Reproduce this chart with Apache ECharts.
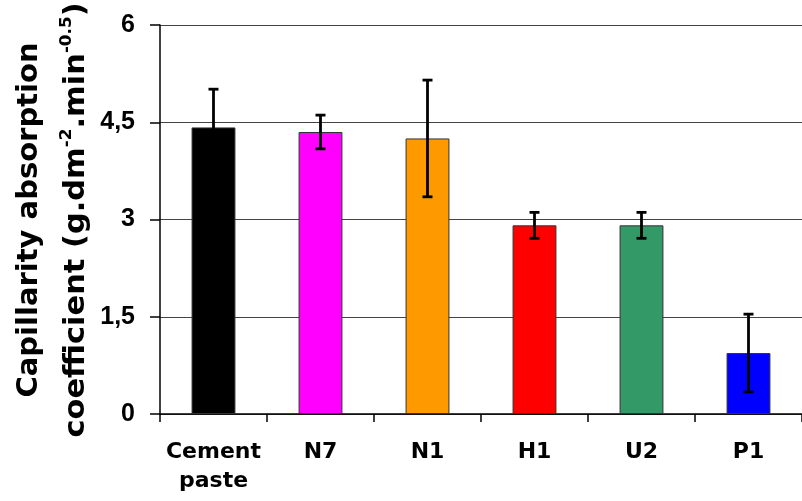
<!DOCTYPE html>
<html><head><meta charset="utf-8">
<script src="https://cdn.jsdelivr.net/npm/echarts@6/dist/echarts.min.js"></script>
<style>html,body{margin:0;padding:0;background:#fff}#c{width:802px;height:501px}</style>
</head><body><div id="c"></div>
<script>
const categories = ['Cement\npaste', 'N7', 'N1', 'H1', 'U2', 'P1'];
const values = [4.42, 4.35, 4.25, 2.91, 2.91, 0.94];
const errors = [0.59, 0.26, 0.90, 0.20, 0.20, 0.60];
const colors = ['#000000', '#ff00ff', '#ff9900', '#ff0000', '#339966', '#0000ff'];
const yMin = 0, yMax = 6, yStep = 1.5;

const chart = echarts.init(document.getElementById('c'));
chart.setOption({
  animation: false,
  backgroundColor: '#ffffff',
  grid: { left: 160, right: -8, top: 25, bottom: 87 },
  xAxis: {
    type: 'category',
    data: categories,
    axisLine: { lineStyle: { color: '#000', width: 1.5 } },
    axisTick: { show: true, length: 8, interval: 0, lineStyle: { color: '#000', width: 1.5 } },
    axisLabel: { interval: 0, margin: 24, color: '#000', fontFamily: 'DejaVu Sans', fontWeight: 'bold', fontSize: 22, lineHeight: 29 }
  },
  yAxis: {
    type: 'value', min: yMin, max: yMax, interval: yStep,
    axisLine: { show: true, lineStyle: { color: '#000', width: 1.5 } },
    axisTick: { show: true, length: 10, lineStyle: { color: '#000', width: 1.5 } },
    splitLine: { lineStyle: { color: '#444', width: 1.2 } },
    axisLabel: { margin: 25, color: '#000', fontFamily: '"Liberation Sans Narrow", "Liberation Sans"', fontWeight: 'bold', fontSize: 25,
      formatter: v => String(v).replace('.', ',') }
  },
  series: [
    {
      type: 'bar', barWidth: '41%',
      data: values.map((v, i) => ({ value: v, itemStyle: { color: colors[i], borderColor: '#333', borderWidth: 1 } }))
    },
    {
      type: 'custom', z: 10,
      data: values.map((v, i) => [i, v, errors[i]]),
      encode: { x: 0, y: 1 },
      renderItem: function (params, api) {
        const i = api.value(0), v = api.value(1), e = api.value(2);
        const t = api.coord([i, v + e]), b = api.coord([i, v - e]);
        const hw = 5;
        const st = { stroke: '#000', lineWidth: 2.8 };
        return { type: 'group', children: [
          { type: 'line', shape: { x1: t[0], y1: t[1], x2: b[0], y2: b[1] }, style: st },
          { type: 'line', shape: { x1: t[0] - hw, y1: t[1], x2: t[0] + hw, y2: t[1] }, style: st },
          { type: 'line', shape: { x1: b[0] - hw, y1: b[1], x2: b[0] + hw, y2: b[1] }, style: st }
        ]};
      }
    }
  ],
  graphic: [
    { type: 'text', x: 29, y: 220, rotation: Math.PI / 2,
      style: { text: 'Capillarity absorption', font: 'bold 29px "DejaVu Sans"', fill: '#000', align: 'center', verticalAlign: 'middle' } },
    { type: 'text', x: 76, y: 220, rotation: Math.PI / 2, scaleX: 1.05,
      style: {
        text: '{m|coefficient (g.dm}{s|-2}{m|.min}{s|-0.5}{m|)}',
        align: 'center', verticalAlign: 'middle', fill: '#000',
        rich: {
          m: { fontFamily: 'DejaVu Sans', fontWeight: 'bold', fontSize: 29, lineHeight: 34, fill: '#000' },
          s: { fontFamily: 'DejaVu Sans', fontWeight: 'bold', fontSize: 16, lineHeight: 10, verticalAlign: 'top', fill: '#000' }
        }
      } }
  ]
});
</script></body></html>
